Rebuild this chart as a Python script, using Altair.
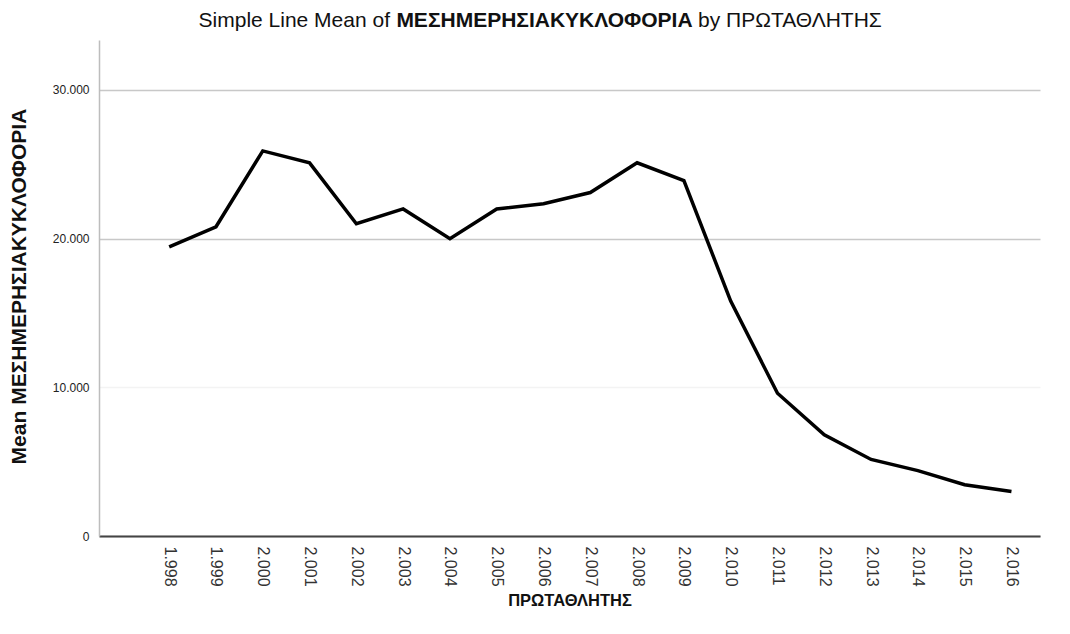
import altair as alt
import pandas as pd

# ---- data ----
YEARS = [1998, 1999, 2000, 2001, 2002, 2003, 2004, 2005, 2006, 2007,
         2008, 2009, 2010, 2011, 2012, 2013, 2014, 2015, 2016]
MEAN_TRAFFIC = [19450, 20800, 25900, 25100, 21000, 22000, 20000, 22000, 22350, 23100,
                25100, 23900, 15800, 9600, 6800, 5150, 4400, 3450, 3000]
Y_TICKS = [0, 10000, 20000, 30000]
TITLE_PARTS = ["Simple Line Mean of", "ΜΕΣΗΜΕΡΗΣΙΑΚΥΚΛΟΦΟΡΙΑ", "by ΠΡΩΤΑΘΛΗΤΗΣ"]
X_TITLE = "ΠΡΩΤΑΘΛΗΤΗΣ"
Y_TITLE = "Mean ΜΕΣΗΜΕΡΗΣΙΑΚΥΚΛΟΦΟΡΙΑ"

df = pd.DataFrame({"year": YEARS, "value": MEAN_TRAFFIC})

FONT = "Liberation Sans"
fmt_expr = "replace(format(datum.value, ','), ',', '.')"

line = alt.Chart(df).mark_line(color="black", strokeWidth=3.5).encode(
    x=alt.X(
        "year:Q",
        scale=alt.Scale(domain=[1996.5, 2016.61], nice=False, zero=False),
        axis=alt.Axis(
            values=YEARS,
            labelExpr=fmt_expr,
            labelAngle=90,
            labelAlign="left",
            labelBaseline="middle",
            labelFontSize=16,
            labelColor="#333333",
            labelPadding=10,
            labelFlush=False,
            labelOverlap=False,
            ticks=False,
            grid=False,
            domainColor="#444444",
            domainWidth=2,
            title=X_TITLE,
            titleFontSize=16.5,
            titleFontWeight="bold",
            titleColor="#111111",
            titleY=64,
            titleBaseline="middle",
        ),
    ),
    y=alt.Y(
        "value:Q",
        scale=alt.Scale(domain=[0, 33360], nice=False),
        axis=alt.Axis(
            values=Y_TICKS,
            labelExpr=fmt_expr,
            labelFontSize=12,
            labelColor="#222222",
            labelPadding=10,
            ticks=False,
            grid=True,
            gridColor={"condition": {"test": "datum.value === 10000", "value": "#f3f3f3"},
                       "value": "#c8c8c8"},
            gridWidth=1.5,
            domainColor="#bdbdbd",
            domainWidth=1.5,
            title=Y_TITLE,
            titleFontSize=21,
            titleFontWeight="bold",
            titleColor="#111111",
            titleX=-80,
            titleY=246,
            titleAngle=-90,
            titleAlign="center",
            titleBaseline="middle",
        ),
    ),
)

title_df = pd.DataFrame({"a": [0]})
TY = -19
t_left = alt.Chart(title_df).mark_text(
    text=TITLE_PARTS[0], font=FONT, fontSize=21, align="right", baseline="middle", color="#111111"
).encode(x=alt.value(291), y=alt.value(TY))
t_bold = alt.Chart(title_df).mark_text(
    text=TITLE_PARTS[1], font=FONT, fontSize=21, fontWeight="bold", align="center",
    baseline="middle", color="#111111"
).encode(x=alt.value(445.5), y=alt.value(TY))
t_right = alt.Chart(title_df).mark_text(
    text=TITLE_PARTS[2], font=FONT, fontSize=21, align="left", baseline="middle", color="#111111"
).encode(x=alt.value(599), y=alt.value(TY))

chart = (
    alt.layer(line, t_left, t_bold, t_right)
    .properties(
        width=941,
        height=496,
        autosize=alt.AutoSizeParams(type="none"),
        padding={"left": 91, "top": 32, "right": 20, "bottom": 86},
        background="white",
    )
    .configure_view(stroke=None)
    .configure_axis(labelFont=FONT, titleFont=FONT)
)

chart.save("out.html", embed_options={"renderer": "svg", "actions": False})
